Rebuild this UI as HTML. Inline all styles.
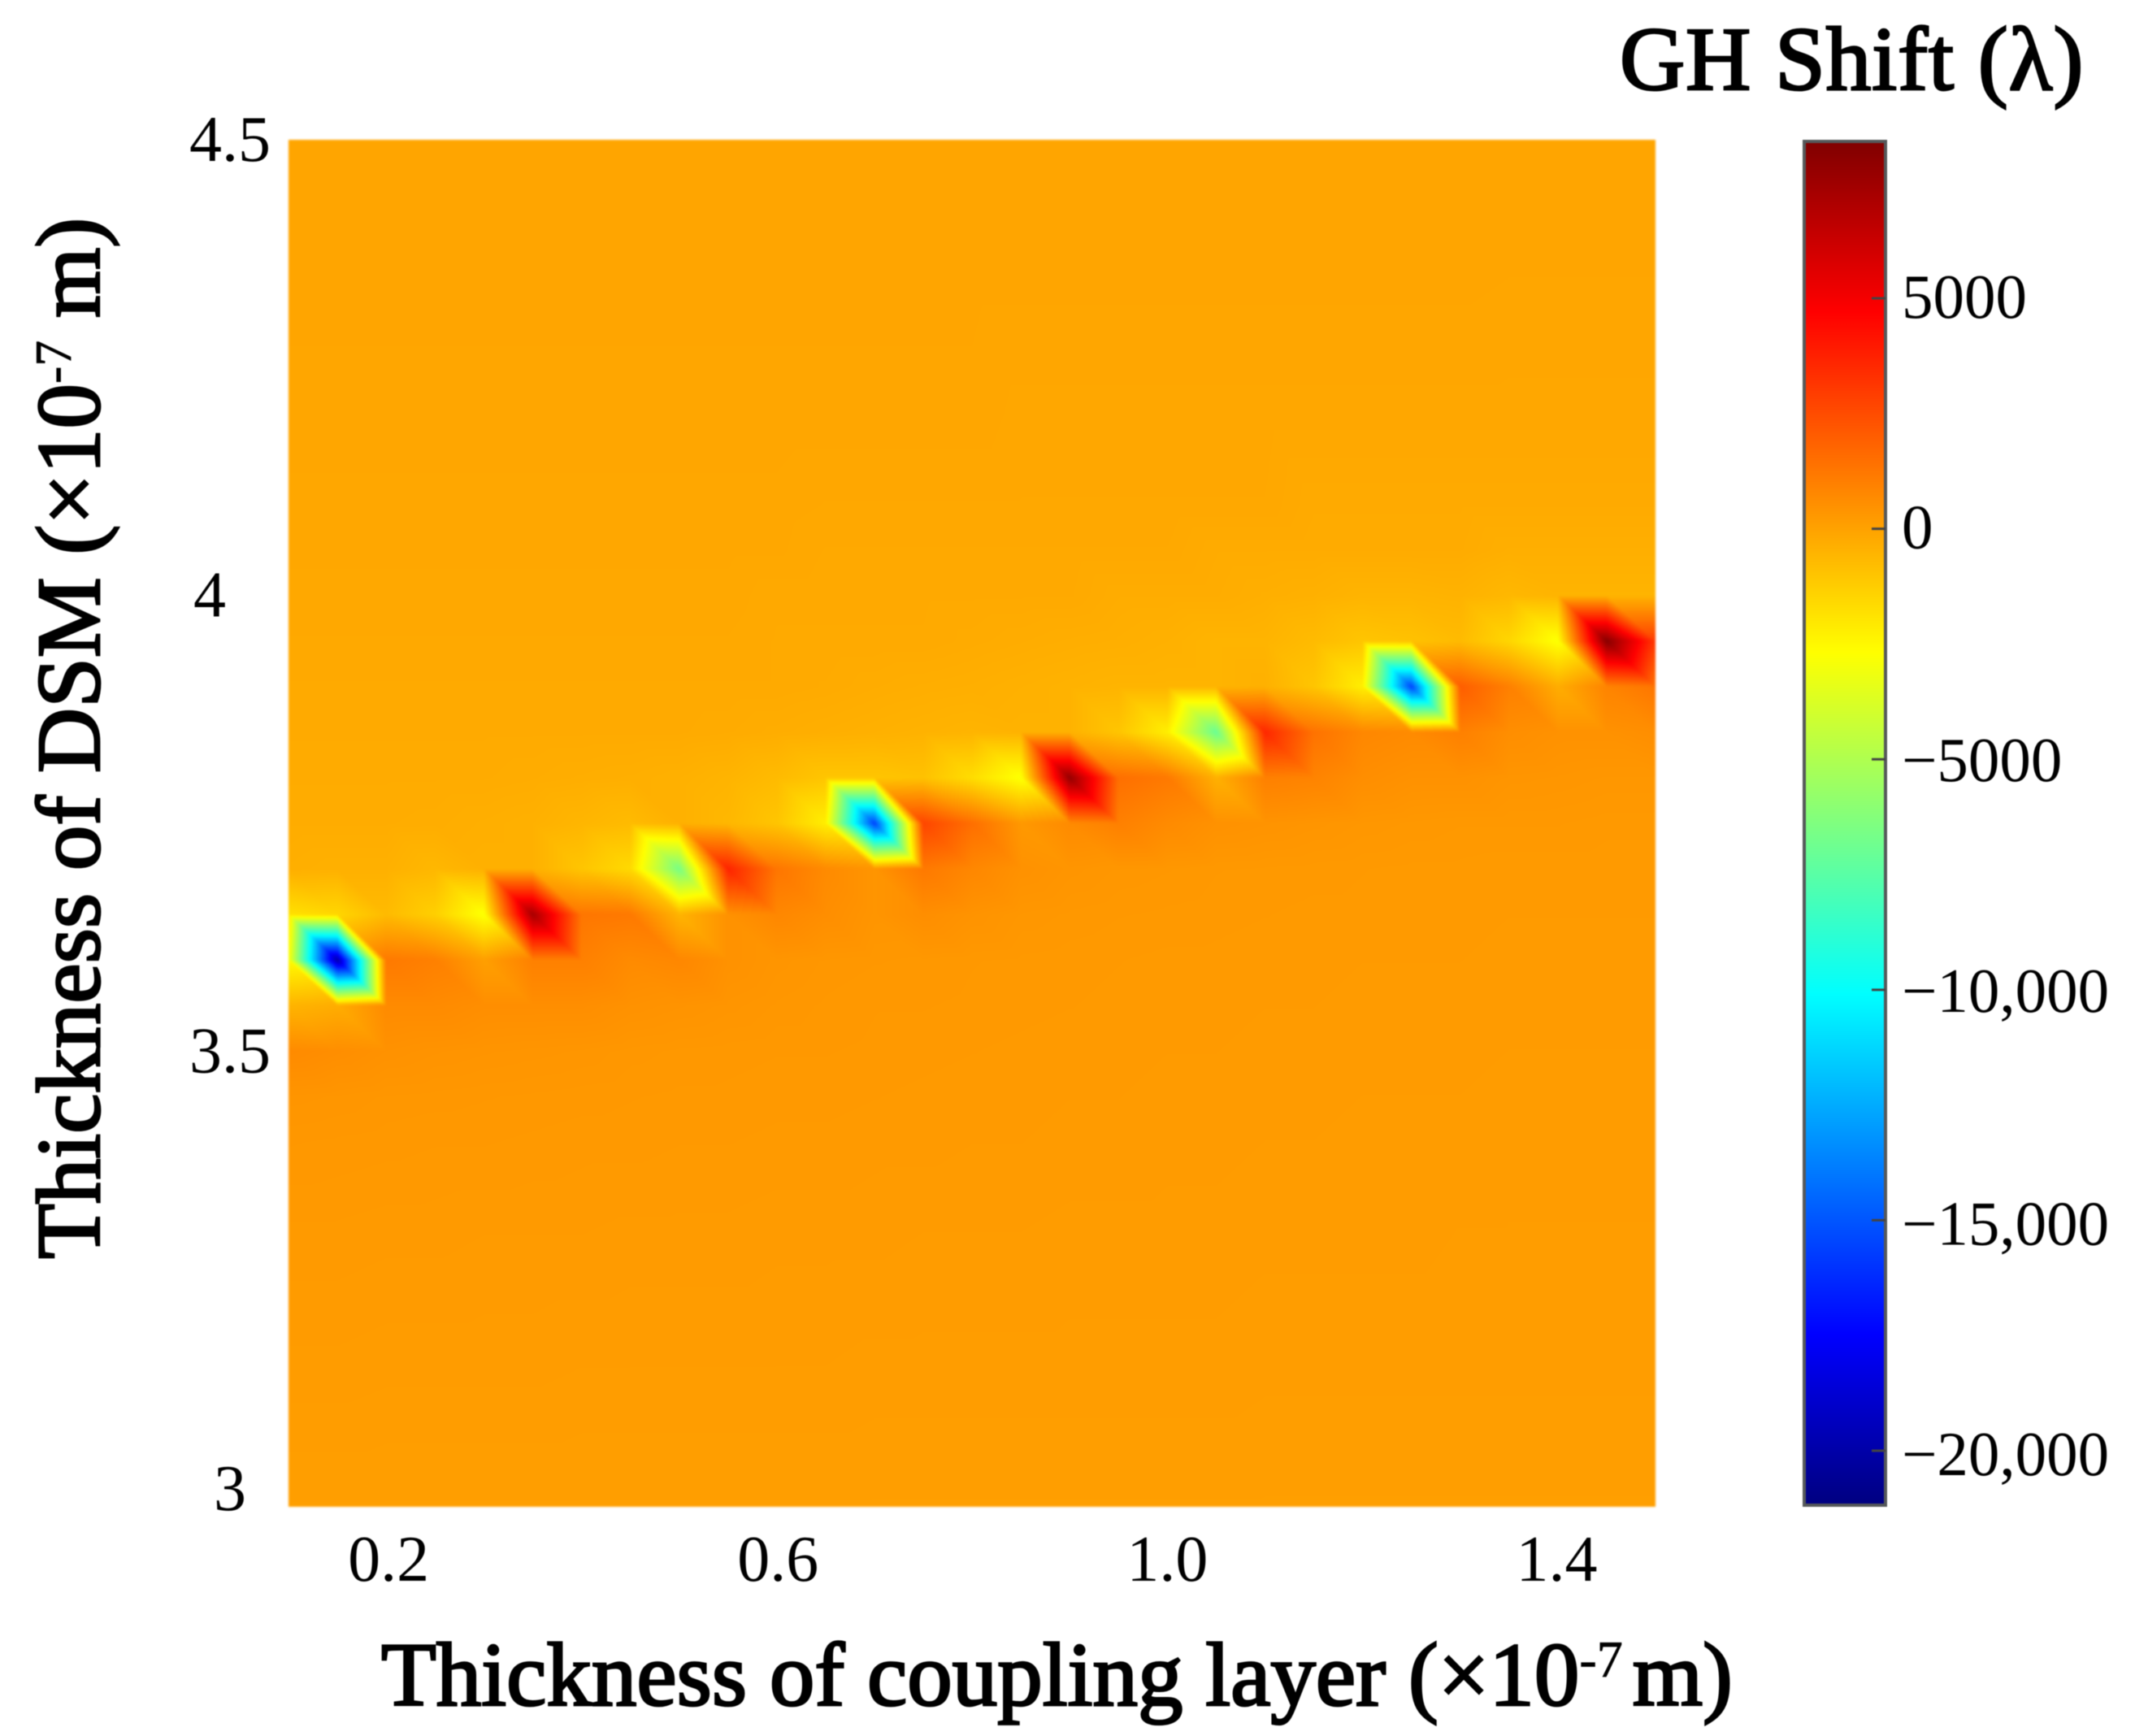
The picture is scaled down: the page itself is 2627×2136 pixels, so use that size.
<!DOCTYPE html>
<html lang="en">
<head>
<meta charset="utf-8">
<title>GH Shift heatmap</title>
<style>
html,body{margin:0;padding:0;background:#fff;}
#stage{position:relative;width:2627px;height:2136px;overflow:hidden;background:#fff;}
#heatmap{position:absolute;left:355px;top:172px;width:1682px;height:1682px;filter:blur(1.3px);}
#overlay{position:absolute;left:0;top:0;filter:blur(0.5px);}
text{font-family:"Liberation Serif",serif;fill:#000;}
.title{font-weight:normal;font-size:111px;stroke:#000;stroke-width:2.8px;}
.cb-title{letter-spacing:1px;}
.tick{font-size:80px;}
.cbtick{font-size:77px;}
.sup{font-weight:normal;font-size:64px;stroke-width:0.8px;}
</style>
</head>
<body>
<div id="stage">
<canvas id="heatmap" width="1682" height="1682"></canvas>
<svg id="overlay" width="2627" height="2136" viewBox="0 0 2627 2136" xmlns="http://www.w3.org/2000/svg">
  <defs>
    <linearGradient id="jet" x1="0" y1="0" x2="0" y2="1">
      <stop offset="0" stop-color="#800000"/>
      <stop offset="0.125" stop-color="#ff0000"/>
      <stop offset="0.375" stop-color="#ffff00"/>
      <stop offset="0.625" stop-color="#00ffff"/>
      <stop offset="0.875" stop-color="#0000ff"/>
      <stop offset="1" stop-color="#000080"/>
    </linearGradient>
  </defs>
  <text class="title cb-title" x="1993" y="110">GH Shift (λ)</text>
  <rect x="2220" y="174" width="100" height="1678" fill="url(#jet)" stroke="#55585a" stroke-width="4"/>
  <g id="cb-ticks"></g>
  <g id="x-ticks"></g>
  <g id="y-ticks"></g>
  <text class="title" x="469" y="2098">Thickness of coupling layer (×10<tspan class="sup" dy="-35">-7</tspan><tspan dy="35" dx="12">m)</tspan></text>
  <text class="title" transform="translate(122,1549) rotate(-90)" x="0" y="0">Thickness of DSM (×10<tspan class="sup" dy="-35">-7</tspan><tspan dy="35"> m)</tspan></text>
</svg>
</div>
<script>
const couplingThickness = [0.10,0.15,0.20,0.25,0.30,0.35,0.40,0.45,0.50,0.55,0.60,0.65,0.70,0.75,0.80,0.85,0.90,0.95,1.00,1.05,1.10,1.15,1.20,1.25,1.30,1.35,1.40,1.45,1.50];
const dsmThickness = [4.5,4.35,4.2,4.1,4.05,4.0,3.95,3.9,3.85,3.8,3.75,3.7,3.65,3.6,3.55,3.5,3.45,3.4,3.3,3.15,3.0];
const ghShift = [
[-60,-60,-60,-60,-60,-60,-60,-60,-60,-60,-60,-60,-60,-60,-60,-60,-60,-60,-60,-60,-60,-60,-60,-60,-60,-60,-60,-60,-60],
[-70,-70,-70,-70,-70,-70,-70,-70,-70,-70,-70,-70,-70,-70,-70,-70,-70,-70,-70,-70,-70,-70,-70,-70,-70,-80,-80,-80,-80],
[-90,-90,-90,-90,-90,-90,-90,-90,-90,-90,-90,-90,-90,-90,-90,-120,-120,-120,-120,-120,-120,-120,-120,-120,-120,-120,-120,-120,-120],
[-120,-120,-120,-120,-120,-120,-120,-120,-120,-120,-120,-140,-140,-140,-140,-140,-140,-140,-140,-140,-140,-220,-220,-220,-220,-220,-220,-220,-220],
[-130,-130,-130,-130,-130,-130,-130,-130,-130,-130,-130,-170,-170,-170,-170,-170,-170,-170,-170,-250,-250,-250,-250,-250,-250,-350,-350,-350,-350],
[-150,-150,-150,-150,-150,-150,-150,-150,-150,-150,-190,-190,-190,-190,-190,-190,-190,-280,-280,-280,-350,-400,-500,-500,-450,-600,-500,-500,-500],
[-170,-170,-170,-170,-170,-170,-170,-170,-170,-170,-200,-200,-200,-200,-240,-280,-320,-350,-400,-500,-500,-700,-1000,-900,-700,-1500,-2800,8200,3000],
[-200,-200,-200,-200,-200,-200,-200,-200,-200,-200,-200,-230,-280,-320,-350,-400,-450,-500,-500,-500,-400,-1000,-2200,-15500,2000,1000,-300,900,1300],
[-220,-220,-220,-220,-220,-220,-220,-220,-220,-250,-300,-350,-400,-450,-500,-450,-450,-1000,-2200,-7000,3600,1400,800,700,1000,600,500,500,600],
[-250,-250,-250,-250,-250,-280,-320,-350,-400,-500,-700,-1000,-1000,-900,-1700,-2800,7800,1500,1200,-400,1000,900,600,500,500,400,380,350,350],
[-280,-280,-280,-300,-350,-400,-550,-700,-400,-600,-1000,-2200,-15600,2700,1500,300,700,1000,700,500,450,400,350,320,300,300,300,280,280],
[-350,-400,-400,-600,-400,-400,-1000,-1600,-6600,3700,1300,700,400,1200,800,500,400,350,330,300,290,280,270,260,260,250,250,250,250],
[-1800,-1500,-700,-1300,-2800,7300,1300,1200,-500,500,800,600,400,600,450,350,320,300,290,280,270,260,260,250,250,240,240,240,240],
[-2600,-20000,1200,1000,100,1000,1000,700,800,500,400,350,330,320,300,290,280,270,260,260,250,250,240,240,240,230,230,230,230],
[-500,-300,700,700,600,600,600,500,450,400,350,320,300,300,290,280,270,260,250,250,240,240,230,230,230,220,220,220,220],
[700,600,500,450,420,400,380,340,320,310,300,300,290,280,270,260,250,250,240,240,230,230,220,220,220,210,210,210,210],
[400,380,350,340,330,320,310,300,290,290,280,280,270,260,250,250,240,240,230,230,220,220,210,210,210,200,200,200,200],
[330,320,310,300,300,290,280,280,270,270,260,260,250,250,240,240,230,230,220,220,210,210,200,200,200,190,190,190,190],
[260,260,250,250,240,240,240,230,230,230,220,220,220,210,210,210,200,200,200,200,190,190,190,190,180,180,180,180,180],
[200,200,190,190,190,190,180,180,180,180,180,180,170,170,170,170,170,170,170,170,160,160,160,160,160,160,160,160,160],
[120,120,120,120,120,120,120,120,120,120,120,120,120,120,120,120,120,120,120,120,120,120,120,120,120,120,120,120,120]
];
const xTickValues = [0.2,0.6,1.0,1.4];
const xTickLabels = ["0.2","0.6","1.0","1.4"];
const yTickValues = [3,3.5,4,4.5];
const yTickLabels = ["3","3.5","4","4.5"];
const colorTickValues = [5000,0,-5000,-10000,-15000,-20000];
const colorTickLabels = ["5000","0","−5000","−10,000","−15,000","−20,000"];
const colorMin = -21216;
const colorMax = 8438;

const plotLeft = 355, plotTop = 172, plotSize = 1682;
const xMin = 0.1, xMax = 1.5, yMin = 3, yMax = 4.5;
function xScale(v){ return plotLeft + (v - xMin) / (xMax - xMin) * plotSize; }
function yScale(v){ return plotTop + (yMax - v) / (yMax - yMin) * plotSize; }
function colorScale(v){ return plotTop + (colorMax - v) / (colorMax - colorMin) * plotSize; }
function clamp01(a){ return a < 0 ? 0 : a > 1 ? 1 : a; }
function jet(t){
  return [
    clamp01(Math.min(4*t-1.5, -4*t+4.5))*255,
    clamp01(Math.min(4*t-0.5, -4*t+3.5))*255,
    clamp01(Math.min(4*t+0.5, -4*t+2.5))*255
  ];
}

function drawHeatmap(){
  const cv = document.getElementById('heatmap');
  const ctx = cv.getContext('2d');
  const img = ctx.createImageData(plotSize, plotSize);
  const xs = couplingThickness.map(function(v){ return xScale(v) - plotLeft; });
  const ys = dsmThickness.map(function(v){ return yScale(v) - plotTop; });
  let row = 0;
  for (let py = 0; py < plotSize; py++){
    const cy = py + 0.5;
    while (row < ys.length - 2 && cy > ys[row+1]) row++;
    const v = (cy - ys[row]) / (ys[row+1] - ys[row]);
    let col = 0;
    for (let px = 0; px < plotSize; px++){
      const cx = px + 0.5;
      while (col < xs.length - 2 && cx > xs[col+1]) col++;
      const u = (cx - xs[col]) / (xs[col+1] - xs[col]);
      const a = ghShift[row][col], b = ghShift[row][col+1];
      const c = ghShift[row+1][col], d = ghShift[row+1][col+1];
      const val = u >= v ? a + u*(b-a) + v*(d-b) : a + v*(c-a) + u*(d-c);
      const rgb = jet(clamp01((val - colorMin) / (colorMax - colorMin)));
      const k = (py*plotSize + px) * 4;
      img.data[k] = rgb[0];
      img.data[k+1] = rgb[1];
      img.data[k+2] = rgb[2];
      img.data[k+3] = 255;
    }
  }
  ctx.putImageData(img, 0, 0);
}

const svgNS = 'http://www.w3.org/2000/svg';
function drawAxes(){
  const xg = document.getElementById('x-ticks');
  xTickValues.forEach(function(v, i){
    const t = document.createElementNS(svgNS, 'text');
    t.setAttribute('class', 'tick');
    t.setAttribute('x', xScale(0.2) + 3 + (xScale(v) - xScale(0.2)) * 0.997);
    t.setAttribute('y', 1945);
    t.setAttribute('text-anchor', 'middle');
    
    
    t.textContent = xTickLabels[i];
    xg.appendChild(t);
  });
  const yg = document.getElementById('y-ticks');
  yTickValues.forEach(function(v, i){
    const t = document.createElementNS(svgNS, 'text');
    t.setAttribute('class', 'tick');
    t.setAttribute('x', v === 4 ? 258 : 283);
    t.setAttribute('y', Math.min(yScale(v), 1832) + 26);
    t.setAttribute('text-anchor', 'middle');
    
    
    t.textContent = yTickLabels[i];
    yg.appendChild(t);
  });
  const cg = document.getElementById('cb-ticks');
  colorTickValues.forEach(function(v, i){
    const y = colorScale(v);
    const l = document.createElementNS(svgNS, 'line');
    l.setAttribute('x1', 2303);
    l.setAttribute('x2', 2320);
    l.setAttribute('y1', y);
    l.setAttribute('y2', y);
    l.setAttribute('stroke', '#444');
    l.setAttribute('stroke-width', 3);
    
    
    cg.appendChild(l);
    const t = document.createElementNS(svgNS, 'text');
    t.setAttribute('class', 'cbtick');
    t.setAttribute('x', 2340);
    t.setAttribute('y', y + (v <= -15000 ? 30 : v < 0 ? 27 : 24));
    
    
    t.textContent = colorTickLabels[i];
    cg.appendChild(t);
  });
}
drawHeatmap();
drawAxes();
</script>
</body>
</html>
